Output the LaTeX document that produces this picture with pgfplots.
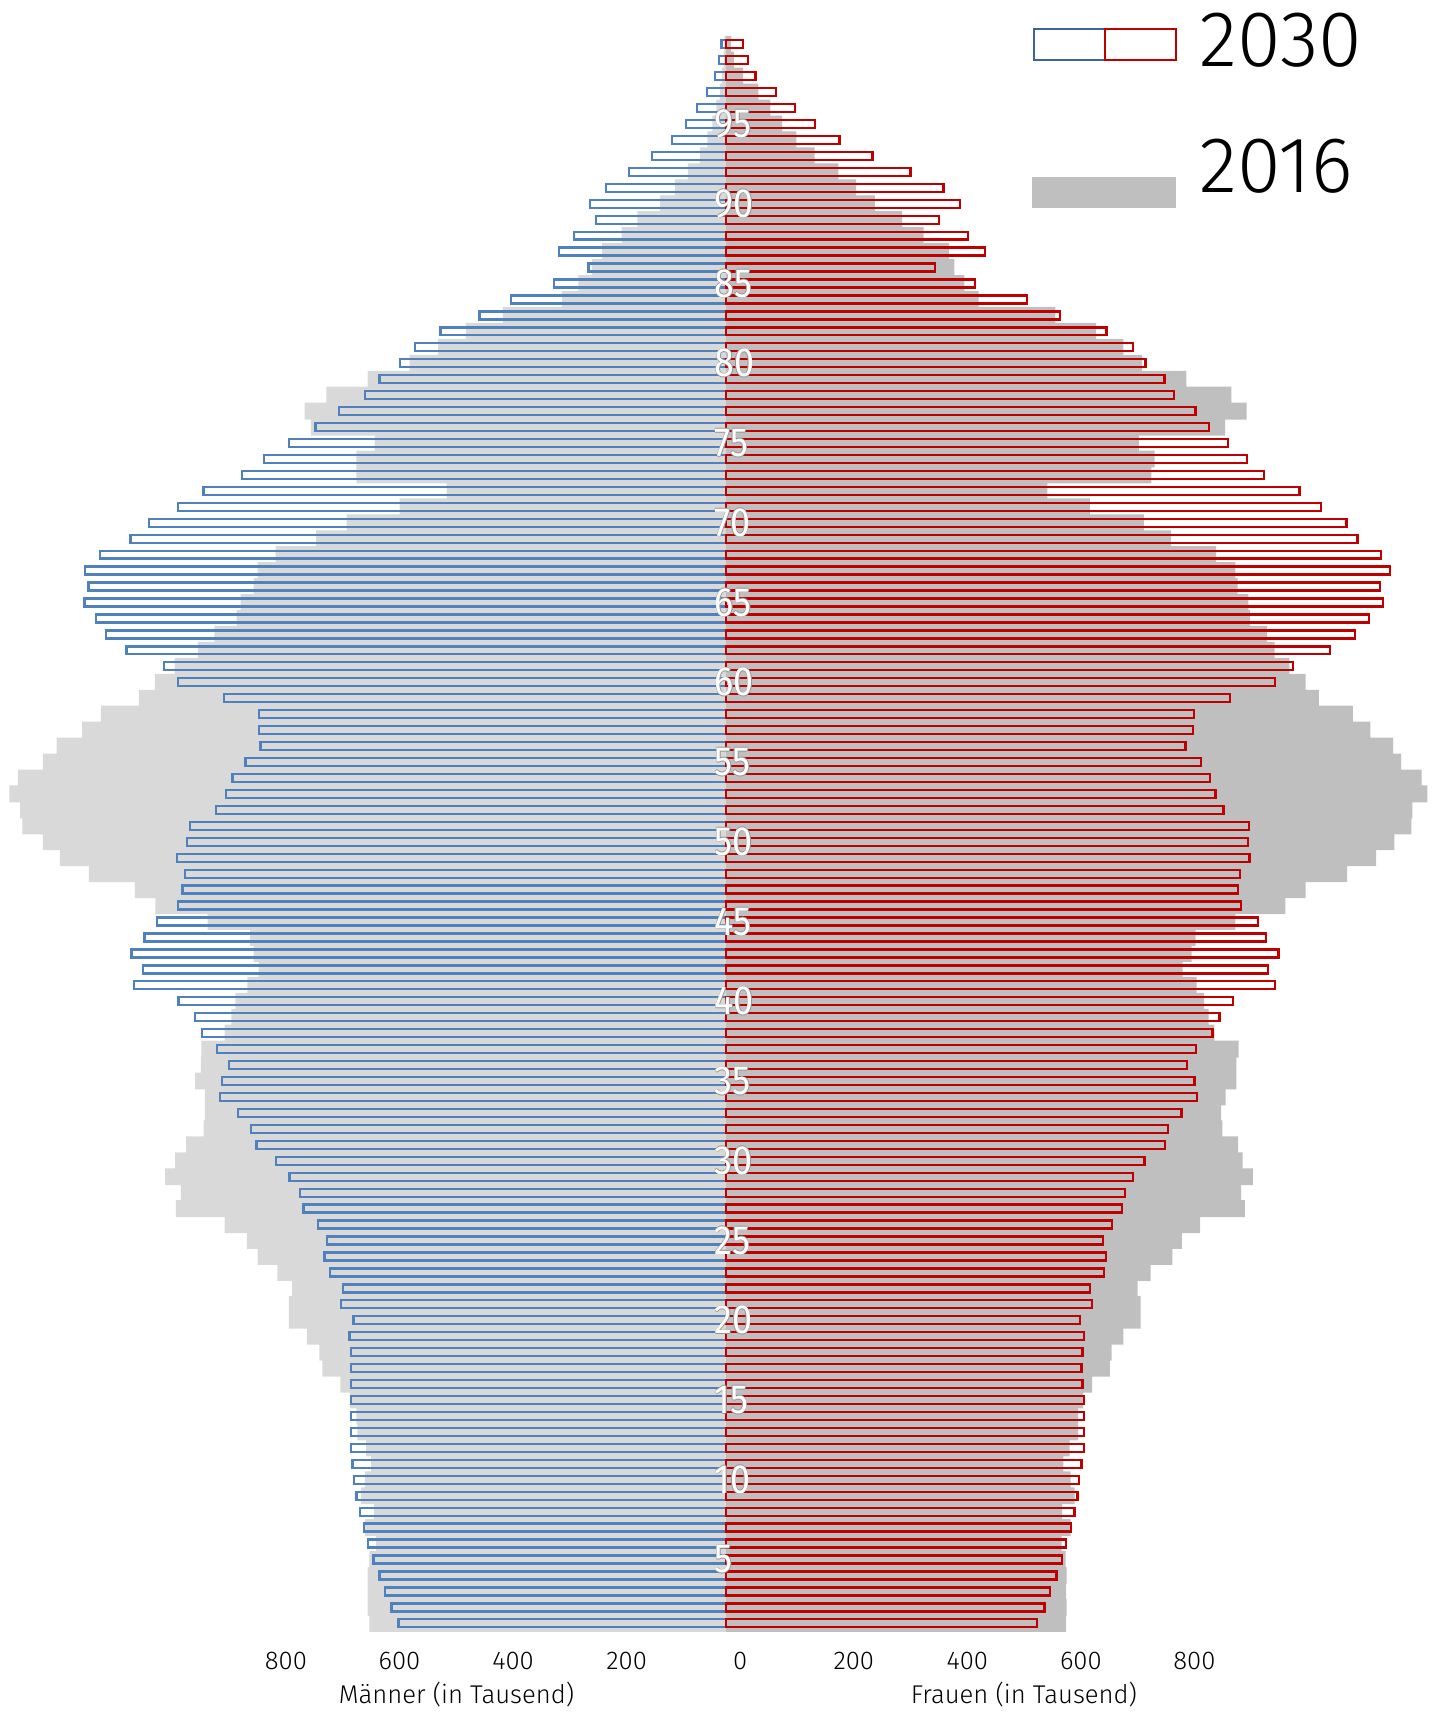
\documentclass[border=0pt]{standalone}
\usepackage{fontspec}
\setmainfont{Fira Sans Light}
\newfontfamily\agefam{Fira Sans}
\usepackage{pgfplots}
\usepackage{pgfplotstable}
\pgfplotsset{compat=1.18}
\definecolor{gL}{RGB}{217,217,217}
\definecolor{gR}{RGB}{191,191,191}
\definecolor{bl}{RGB}{79,129,189}
\definecolor{rd}{RGB}{192,0,0}
\definecolor{legbl}{RGB}{62,98,156}
\definecolor{haloc}{RGB}{150,150,150}
\newcommand\agefont{\agefam\fontsize{11.6pt}{13pt}\selectfont}
\newcommand\tickfont{\fontsize{7.3pt}{9pt}\selectfont}
\newcommand\legfont{\fontsize{22.5pt}{26pt}\selectfont}
\newcommand\halo[1]{\leavevmode
  \rlap{\color{haloc}\hspace*{0.06mm}#1}%
  \rlap{\color{haloc}\hspace*{-0.06mm}#1}%
  \rlap{\color{haloc}\raisebox{0.06mm}{#1}}%
  \rlap{\color{haloc}\raisebox{-0.06mm}{#1}}%
  {\color{white}#1}}
\pgfplotstableread{
age m16 m30 f16 f30
100 3 8 9 30
99 4 12 14 39
98 7 19 30 52
97 11 34 57 88
96 17 51 78 121
95 24 71 99 157
94 33 95 124 200
93 46 130 156 258
92 67 171 198 325
91 90 211 229 383
90 116 239 262 412
89 156 229 310 375
88 184 268 348 426
87 218 294 393 456
86 236 242 402 368
85 260 303 420 439
84 289 379 445 530
83 393 434 580 588
82 458 503 652 670
81 507 548 700 717
80 557 574 733 739
79 631 610 811 772
78 704 636 890 789
77 742 682 917 827
76 731 723 879 851
75 619 770 727 884
74 651 814 755 917
73 651 852 749 947
72 492 920 566 1010
71 575 965 641 1048
70 668 1016 736 1093
69 722 1049 784 1112
68 793 1103 863 1153
67 825 1129 897 1169
66 832 1123 901 1152
65 855 1130 920 1157
64 862 1110 923 1133
63 901 1092 953 1108
62 930 1056 966 1064
61 971 990 992 999
60 1006 965 1021 967
59 1034 884 1044 888
58 1101 822 1104 824
57 1134 822 1135 822
56 1179 820 1175 809
55 1203 846 1189 836
54 1247 869 1225 853
53 1262 881 1235 862
52 1243 898 1209 876
51 1239 944 1207 921
50 1203 949 1177 919
49 1173 967 1145 922
48 1122 953 1094 905
47 1041 957 1021 902
46 1005 965 985 907
45 913 1002 897 937
44 838 1024 827 951
43 832 1047 820 973
42 823 1027 804 954
41 843 1042 829 967
40 864 964 842 893
39 871 935 850 869
38 883 923 860 857
37 924 896 903 828
36 925 875 899 812
35 935 888 899 825
34 918 891 880 830
33 918 860 872 802
32 920 837 874 779
31 951 827 902 773
30 970 792 910 737
29 988 769 928 717
28 960 750 907 703
27 969 744 914 698
26 883 719 835 680
25 844 703 803 664
24 825 707 786 669
23 790 698 748 666
22 764 675 725 641
21 770 678 730 644
20 770 656 730 623
19 738 663 700 630
18 716 660 679 628
17 711 660 676 626
16 679 660 645 628
15 662 661 629 630
14 651 661 620 630
13 649 661 620 630
12 634 660 605 630
11 625 658 594 626
10 636 655 607 622
9 643 651 614 619
8 620 644 592 614
7 636 638 607 607
6 616 630 591 599
5 628 621 598 592
4 631 610 600 582
3 631 600 599 571
2 631 589 600 561
1 628 577 599 548
}\pyr
\begin{document}
\begin{tikzpicture}
\useasboundingbox (0,0) rectangle (143.7mm,171.2mm);
\begin{axis}[
  at={(0mm,8.07mm)}, anchor=south west,
  scale only axis, width=143.7mm, height=159.5mm,
  xmin=-1278.6, xmax=1252.2,
  ymin=0.5, ymax=100.5,
  axis x line*=bottom, axis y line=none,
  x axis line style={draw=none},
  xtick={-775,-575,-375,-175,25,225,425,625,825},
  xticklabels={800,600,400,200,0,200,400,600,800},
  major tick length=0pt,
  xtick style={draw=none},
  xticklabel style={font=\tickfont, anchor=base, inner sep=0pt, yshift=-3.87mm},
  clip=false,
]
\addplot[xbar, bar width=1.06, bar shift=0pt, fill=gL, draw=none]
  table[x expr=-\thisrow{m16}, y=age]{\pyr};
\addplot[xbar, bar width=1.06, bar shift=0pt, fill=gR, draw=none]
  table[x=f16, y=age]{\pyr};
\addplot[xbar, bar width=0.5, bar shift=0pt, fill=none, draw=bl, line width=0.23mm]
  table[x expr=-\thisrow{m30}, y=age]{\pyr};
\addplot[xbar, bar width=0.5, bar shift=0pt, fill=none, draw=rd, line width=0.23mm]
  table[x=f30, y=age]{\pyr};
\pgfplotsinvokeforeach{5,10,15,20,25,30,35,40,45,50,55,60,65,70,75,80,85,90,95}{
  \node[anchor=west, inner sep=0pt, font=\agefont, xscale=0.88] at (axis cs:-21,#1) {\halo{#1}};
}
\node[font=\tickfont, anchor=base, inner sep=0pt] at (axis cs:-474.6,-4.0) {Männer (in Tausend)};
\node[font=\tickfont, anchor=base, inner sep=0pt] at (axis cs:524.8,-4.0) {Frauen (in Tausend)};
\end{axis}
\draw[legbl, line width=0.17mm] (103.43mm,165.2mm) rectangle (110.5mm,168.27mm);
\draw[rd, line width=0.17mm] (110.5mm,165.2mm) rectangle (117.6mm,168.27mm);
\fill[gR] (103.23mm,150.37mm) rectangle (117.6mm,153.53mm);
\node[anchor=west, inner sep=0pt, font=\legfont] at (119.9mm,167.2mm) {2030};
\node[anchor=west, inner sep=0pt, font=\legfont] at (119.9mm,154.53mm) {2016};
\end{tikzpicture}
\end{document}
